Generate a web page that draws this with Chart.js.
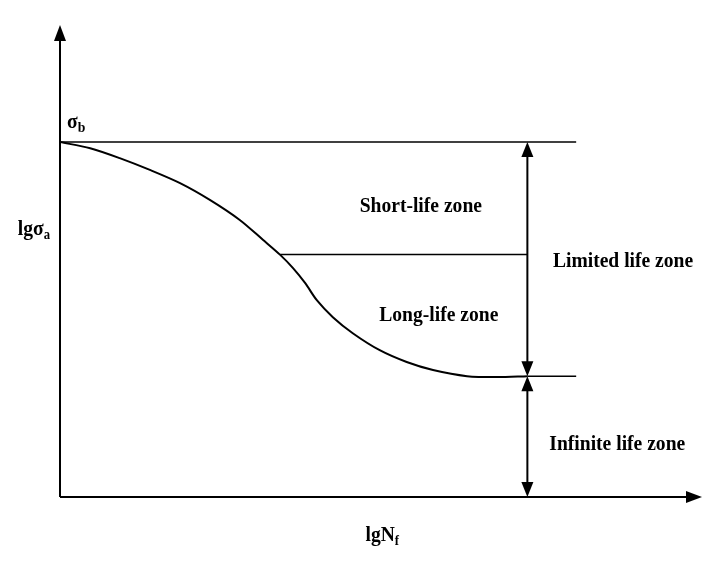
<!DOCTYPE html>
<html>
<head>
<meta charset="utf-8">
<script src="https://cdn.jsdelivr.net/npm/chart.js@4/dist/chart.umd.min.js"></script>
<style>
  html,body{margin:0;padding:0;background:#fff;}
  canvas{display:block;}
</style>
</head>
<body>
<canvas id="c" width="718" height="570"></canvas>
<script>
// ---- data (abstract units: lgN on x 0..10, lg sigma on y 0..10) ----
const curveX = [0, 0.47, 0.93, 1.40, 1.87, 2.34, 2.80, 3.16, 3.43, 3.63, 3.82, 4.00, 4.25, 4.56, 4.98, 5.40, 5.81, 6.34, 6.81, 7.28];
const curveY = [7.52, 7.39, 7.18, 6.93, 6.65, 6.29, 5.87, 5.45, 5.13, 4.85, 4.53, 4.17, 3.81, 3.47, 3.11, 2.86, 2.69, 2.56, 2.54, 2.56];
const sigmaBLevel = 7.52;     // ultimate strength level
const zoneSplitLevel = 5.14;  // short/long life boundary
const fatigueLimit = 2.56;    // infinite life boundary
const zoneSplitStart = 3.43;
const zoneArrowX = 7.28;
const refLineEnd = 8.04;
const axisMax = 10;
const zoneLabels = ["Short-life zone", "Long-life zone", "Limited life zone", "Infinite life zone"];
const axisLabels = { y: ["lgσ", "a"], x: ["lgN", "f"], top: ["σ", "b"] };

const curveData = curveX.map((x, i) => ({ x, y: curveY[i] }));
const black = '#000';
const SX = 0.89;
const font = (s) => `bold ${s}px "Liberation Serif", "Times New Roman", serif`;

function arrowHead(ctx, x, y, dir, len, half) {
  ctx.beginPath();
  if (dir === 'up') { ctx.moveTo(x, y); ctx.lineTo(x - half, y + len); ctx.lineTo(x + half, y + len); }
  if (dir === 'down') { ctx.moveTo(x, y); ctx.lineTo(x - half, y - len); ctx.lineTo(x + half, y - len); }
  if (dir === 'right') { ctx.moveTo(x, y); ctx.lineTo(x - len, y - half); ctx.lineTo(x - len, y + half); }
  ctx.closePath();
  ctx.fill();
}

function scaledText(ctx, text, x, y, size) {
  ctx.save();
  ctx.font = font(size);
  ctx.textAlign = 'center';
  ctx.textBaseline = 'alphabetic';
  ctx.translate(x, y);
  ctx.scale(SX, 1);
  ctx.fillText(text, 0, 0);
  ctx.restore();
}

function subText(ctx, main, sub, x, y, size, subRatio, align) {
  ctx.save();
  ctx.font = font(size);
  const w1 = ctx.measureText(main).width;
  ctx.font = font(size * subRatio);
  const w2 = ctx.measureText(sub).width;
  const total = (w1 + w2) * SX;
  let sx = x;
  if (align === 'center') sx = x - total / 2;
  if (align === 'right') sx = x - total;
  ctx.translate(sx, y);
  ctx.scale(SX, 1);
  ctx.textAlign = 'left';
  ctx.textBaseline = 'alphabetic';
  ctx.font = font(size);
  ctx.fillText(main, 0, 0);
  ctx.font = font(size * subRatio);
  ctx.fillText(sub, w1, size * 0.18);
  ctx.restore();
}

const decor = {
  id: 'decor',
  afterDatasetsDraw(chart) {
    const { ctx, scales: { x, y } } = chart;
    ctx.save();
    ctx.fillStyle = black;
    ctx.strokeStyle = black;
    // axes
    const x0 = x.getPixelForValue(0), y0 = y.getPixelForValue(0);
    const xEnd = x.getPixelForValue(axisMax), yTop = y.getPixelForValue(axisMax);
    ctx.lineWidth = 2;
    ctx.beginPath();
    ctx.moveTo(x0, y0); ctx.lineTo(x0, yTop + 10);
    ctx.moveTo(x0, y0); ctx.lineTo(xEnd - 10, y0);
    ctx.stroke();
    arrowHead(ctx, x0, yTop, 'up', 16, 6);
    arrowHead(ctx, xEnd, y0, 'right', 16, 6);
    // zone arrows
    const ax = x.getPixelForValue(zoneArrowX);
    const yb = y.getPixelForValue(sigmaBLevel);
    const yf = y.getPixelForValue(fatigueLimit);
    ctx.lineWidth = 2;
    ctx.beginPath();
    ctx.moveTo(ax, yb + 8); ctx.lineTo(ax, yf - 8);
    ctx.moveTo(ax, yf + 8); ctx.lineTo(ax, y0 - 8);
    ctx.stroke();
    arrowHead(ctx, ax, yb, 'up', 15, 6);
    arrowHead(ctx, ax, yf, 'down', 15, 6);
    arrowHead(ctx, ax, yf, 'up', 15, 6);
    arrowHead(ctx, ax, y0, 'down', 15, 6);
    // zone labels
    scaledText(ctx, zoneLabels[0], x.getPixelForValue(5.62), y.getPixelForValue(6.04), 22);
    scaledText(ctx, zoneLabels[1], x.getPixelForValue(5.90), y.getPixelForValue(3.73), 22);
    scaledText(ctx, zoneLabels[2], x.getPixelForValue(8.77), y.getPixelForValue(4.87), 22);
    scaledText(ctx, zoneLabels[3], x.getPixelForValue(8.68), y.getPixelForValue(1.00), 22);
    // axis labels
    subText(ctx, axisLabels.top[0], axisLabels.top[1], x0 + 7, yb - 14, 22, 0.7, 'left');
    subText(ctx, axisLabels.y[0], axisLabels.y[1], x0 - 10, y.getPixelForValue(5.55), 22, 0.65, 'right');
    subText(ctx, axisLabels.x[0], axisLabels.x[1], x.getPixelForValue(5.02), y0 + 44, 22, 0.65, 'center');
    ctx.restore();
  }
};

new Chart(document.getElementById('c'), {
  type: 'scatter',
  data: {
    datasets: [
      { data: curveData, showLine: true, borderColor: black, borderWidth: 2, pointRadius: 0, tension: 0.3, fill: false },
      { data: [{ x: 0, y: sigmaBLevel }, { x: refLineEnd, y: sigmaBLevel }], showLine: true, borderColor: black, borderWidth: 1.5, pointRadius: 0 },
      { data: [{ x: zoneSplitStart, y: zoneSplitLevel }, { x: zoneArrowX, y: zoneSplitLevel }], showLine: true, borderColor: black, borderWidth: 1.5, pointRadius: 0 },
      { data: [{ x: zoneArrowX, y: fatigueLimit }, { x: refLineEnd, y: fatigueLimit }], showLine: true, borderColor: black, borderWidth: 1.5, pointRadius: 0 }
    ]
  },
  options: {
    responsive: false,
    animation: false,
    layout: { padding: { left: 60, right: 16, top: 25, bottom: 73 } },
    plugins: { legend: { display: false }, tooltip: { enabled: false } },
    scales: {
      x: { type: 'linear', min: 0, max: axisMax, display: false },
      y: { type: 'linear', min: 0, max: axisMax, display: false }
    }
  },
  plugins: [decor]
});
</script>
</body>
</html>
